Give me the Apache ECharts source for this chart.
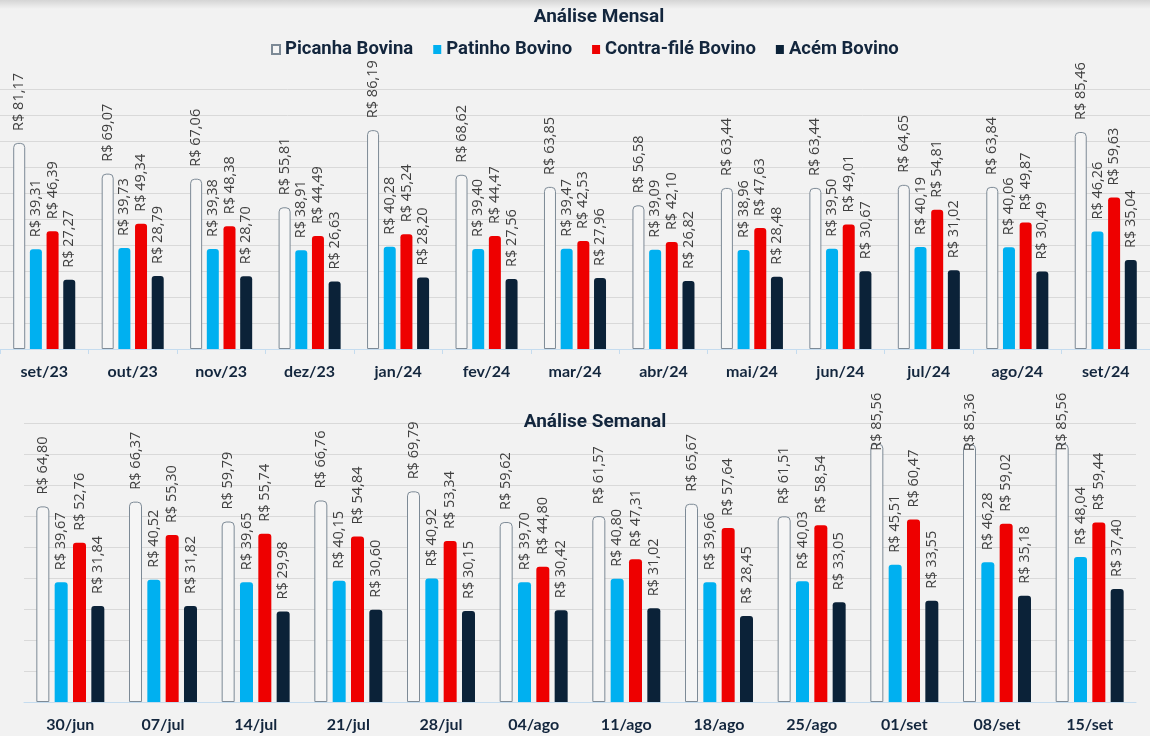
<!DOCTYPE html>
<html><head><meta charset="utf-8">
<script src="https://cdn.jsdelivr.net/npm/echarts@6/dist/echarts.min.js"></script>
<style>html,body{margin:0;padding:0;background:#f2f2f2}#c{width:1150px;height:736px}</style>
</head><body><div id="c"></div><script>
const seriesNames = ['Picanha Bovina', 'Patinho Bovino', 'Contra-filé Bovino', 'Acém Bovino'];

const monthCats = ['set/23','out/23','nov/23','dez/23','jan/24','fev/24','mar/24','abr/24','mai/24','jun/24','jul/24','ago/24','set/24'];
const monthPicanha = [81.17,69.07,67.06,55.81,86.19,68.62,63.85,56.58,63.44,63.44,64.65,63.84,85.46];
const monthPatinho = [39.31,39.73,39.38,38.91,40.28,39.40,39.47,39.09,38.96,39.50,40.19,40.06,46.26];
const monthContra = [46.39,49.34,48.38,44.49,45.24,44.47,42.53,42.10,47.63,49.01,54.81,49.87,59.63];
const monthAcem = [27.27,28.79,28.70,26.63,28.20,27.56,27.96,26.82,28.48,30.67,31.02,30.49,35.04];

const weekCats = ['30/jun','07/jul','14/jul','21/jul','28/jul','04/ago','11/ago','18/ago','25/ago','01/set','08/set','15/set'];
const weekPicanha = [64.80,66.37,59.79,66.76,69.79,59.62,61.57,65.67,61.51,85.56,85.36,85.56];
const weekPatinho = [39.67,40.52,39.65,40.15,40.92,39.70,40.80,39.66,40.03,45.51,46.28,48.04];
const weekContra = [52.76,55.30,55.74,54.84,53.34,44.80,47.31,57.64,58.54,60.47,59.02,59.44];
const weekAcem = [31.84,31.82,29.98,30.60,30.15,30.42,31.02,28.45,33.05,33.55,35.18,37.40];

const NAVY = '#13263d';
const colors = ['#f5f5f5', '#00b0f0', '#ee0000', '#0b2238'];
const fmt = p => 'R$ ' + Number(p.value).toFixed(2).replace('.', ',');

function mkSeries(name, idx, data, axisIdx, barWidth, barGap, clampAbove) {
  const isPic = idx === 0;
  return {
    type: 'bar', name: name, xAxisIndex: axisIdx, yAxisIndex: axisIdx,
    barWidth: barWidth, barGap: barGap,
    data: data.map(v => (clampAbove && v > clampAbove) ? {value: v, label: {distance: -7}} : v),
    itemStyle: isPic ? {color: colors[0], borderColor: '#7d8a96', borderWidth: 1, borderRadius: [4,4,0,0]}
                     : {color: colors[idx], borderRadius: [3,3,0,0]},
    label: {
      show: true, position: 'top', rotate: 90, align: 'left', verticalAlign: 'middle',
      distance: 12, formatter: fmt, fontSize: 14.5, color: '#404040', fontFamily: 'Open Sans'
    }
  };
}

const monthData = [monthPicanha, monthPatinho, monthContra, monthAcem];
const weekData = [weekPicanha, weekPatinho, weekContra, weekAcem];
const series = [];
seriesNames.forEach((n, i) => series.push(mkSeries(n, i, monthData[i], 0, 12, '39%', null)));
seriesNames.forEach((n, i) => series.push(mkSeries(n, i, weekData[i], 1, 13, '41%', 80)));

const catAxis = (cats, gi, ticks) => ({
  type: 'category', data: cats, gridIndex: gi,
  axisLine: {lineStyle: {color: '#c5dcef', width: 1}},
  axisTick: {show: ticks, length: 5, lineStyle: {color: '#c5dcef'}},
  axisLabel: {color: NAVY, fontWeight: 'bold', fontSize: 16, fontFamily: 'Lato', margin: 15}
});
const valAxis = (gi, max, interval) => ({
  type: 'value', gridIndex: gi, min: 0, max: max, interval: interval,
  axisLabel: {show: false}, axisLine: {show: false}, axisTick: {show: false},
  splitLine: {lineStyle: {color: '#d9d9d9', width: 1}}
});

const chart = echarts.init(document.getElementById('c'), null, {renderer: 'canvas'});
chart.setOption({
  backgroundColor: '#f2f2f2',
  animation: false,
  color: colors,
  title: [
    {text: 'Análise Mensal', left: 594, top: 3, textAlign: 'center', textStyle: {color: NAVY, fontSize: 19, fontWeight: 'bold', fontFamily: 'Roboto'}},
    {text: 'Análise Semanal', left: 590, top: 408, textAlign: 'center', textStyle: {color: NAVY, fontSize: 19, fontWeight: 'bold', fontFamily: 'Roboto'}}
  ],
  legend: {
    data: seriesNames, top: 35, left: 266, itemWidth: 8, itemHeight: 9, itemGap: 20,
    icon: 'rect',
    textStyle: {color: NAVY, fontSize: 18.5, fontWeight: 'bold', fontFamily: 'Roboto'}
  },
  graphic: [{
    type: 'rect', left: 0, top: 0, shape: {width: 1150, height: 9}, silent: true,
    style: {fill: new echarts.graphic.LinearGradient(0, 0, 0, 1, [
      {offset: 0, color: 'rgba(0,0,0,0.12)'}, {offset: 1, color: 'rgba(0,0,0,0)'}])}
  }],
  grid: [
    {left: 0, right: 0, top: 89, height: 260},
    {left: 24, right: 14, top: 423, height: 279}
  ],
  xAxis: [catAxis(monthCats, 0, true), catAxis(weekCats, 1, false)],
  yAxis: [valAxis(0, 102.4, 10.24), valAxis(1, 92.43, 10.27)],
  series: series
});
</script></body></html>
